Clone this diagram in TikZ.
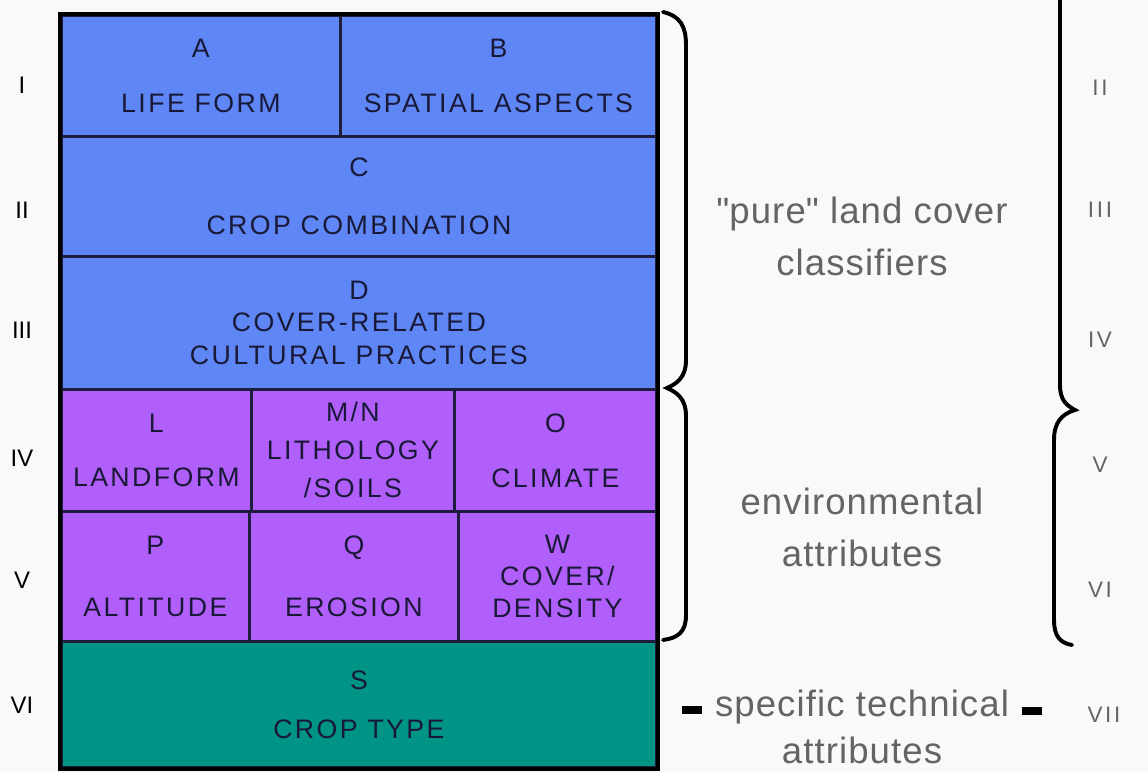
\documentclass[tikz,border=0pt]{standalone}
\usepackage{fontspec}
\setmainfont{Liberation Sans}
\newfontfamily\cellfont[LetterSpace=9]{Liberation Sans}
\newfontfamily\grpfont[LetterSpace=3]{Liberation Sans}
\newfontfamily\lvlfont[LetterSpace=12]{Liberation Sans}
\usetikzlibrary{positioning}
\definecolor{lcblue}{RGB}{94,134,245}
\definecolor{lcpurple}{RGB}{177,95,250}
\definecolor{lcteal}{RGB}{0,148,135}
\definecolor{lcline}{RGB}{30,30,60}
\definecolor{lctext}{RGB}{25,25,55}
\definecolor{lcgray}{RGB}{100,100,100}
\definecolor{lcback}{RGB}{249,249,249}
\newcommand{\px}{0.025cm}
\tikzstyle{cell} = [rectangle, anchor=north west, draw=lcline, line width=2pt, inner sep=0pt, align=center, text=lctext, font=\cellfont\fontsize{19}{23}\selectfont]
\tikzstyle{level} = [font=\fontsize{17}{20}\selectfont]
\tikzstyle{rlevel} = [font=\lvlfont\fontsize{16}{18}\selectfont, text=lcgray]
\tikzstyle{group} = [align=center, text=lcgray, font=\grpfont\fontsize{26}{37}\selectfont]
\tikzstyle{brace} = [line width=2.8pt, line cap=round]
\begin{document}
\begin{tikzpicture}[x=\px, y=-\px]
\fill[lcback] (0,0) rectangle (1148,773);
\useasboundingbox (0,0) rectangle (1148,773);

% top group: pure land cover classifiers
\node (cellA) [cell, fill=lcblue, minimum width=279*\px, minimum height=121*\px] at (60,14) {A\\[16pt]LIFE FORM};
\node (cellB) [cell, fill=lcblue, minimum width=316*\px, minimum height=121*\px] at (339,14) {B\\[16pt]SPATIAL ASPECTS};
\node (cellC) [cell, fill=lcblue, minimum width=595*\px, minimum height=120*\px] at (60,135) {C\\[18pt]CROP COMBINATION};
\node (cellD) [cell, fill=lcblue, minimum width=595*\px, minimum height=133*\px] at (60,255) {D\\COVER-RELATED\\CULTURAL PRACTICES};

% environmental attributes
\node (cellL) [cell, fill=lcpurple, minimum width=190*\px, minimum height=122*\px] at (60,388) {L\\[16pt]LANDFORM};
\node (cellMN) [cell, fill=lcpurple, minimum width=203*\px, minimum height=122*\px] at (250,388) {M/N\\[4pt]LITHOLOGY\\[4pt]/SOILS};
\node (cellO) [cell, fill=lcpurple, minimum width=202*\px, minimum height=122*\px] at (453,388) {O\\[16pt]CLIMATE};
\node (cellP) [cell, fill=lcpurple, minimum width=188*\px, minimum height=130*\px] at (60,510) {P\\[21pt]ALTITUDE};
\node (cellQ) [cell, fill=lcpurple, minimum width=209*\px, minimum height=130*\px] at (248,510) {Q\\[21pt]EROSION};
\node (cellW) [cell, fill=lcpurple, minimum width=198*\px, minimum height=130*\px] at (457,510) {W\\COVER/\\DENSITY};

% technical attributes
\node (cellS) [cell, fill=lcteal, minimum width=595*\px, minimum height=126*\px] at (60,640) {S\\[12pt]CROP TYPE};

\draw[line width=2.5pt] (cellA.north west) rectangle (cellS.south east);

% levels
\node (lI) [level] at (22,85) {I};
\node (lII) [level] at (22,210) {II};
\node (lIII) [level] at (22,330) {III};
\node (lIV) [level] at (22,458) {IV};
\node (lV) [level] at (22,580) {V};
\node (lVI) [level] at (22,705) {VI};

\node (rII) [rlevel] at (1100,88) {II};
\node (rIII) [rlevel] at (1100,210) {III};
\node (rIV) [rlevel] at (1100,340) {IV};
\node (rV) [rlevel] at (1100,465) {V};
\node (rVI) [rlevel] at (1100,590) {VI};
\node (rVII) [rlevel] at (1104,715) {VII};

\node (pure) [group] at (862,236) {\textquotedbl pure\textquotedbl\ land cover\\classifiers};
\node (envir) [group] at (862,527) {environmental\\attributes};
\node (techn) [group, font=\grpfont\fontsize{26}{34}\selectfont] at (862,727) {specific technical\\attributes};

\coordinate (dashL) at (682,710);
\coordinate (dashR) at (1022,711);
\draw[line width=5pt] (dashL) -- ++(20,0);
\draw[line width=5pt] (dashR) -- ++(20,0);

% braces
\draw[brace] (663,12) .. controls (680,16) and (686,26) .. (686,45) -- (686,360) .. controls (686,378) and (676,384) .. (667,388) .. controls (676,392) and (686,398) .. (686,416) -- (686,615) .. controls (686,632) and (678,638) .. (663,640);
\draw[brace] (1060,-5) -- (1060,385) .. controls (1060,400) and (1066,405) .. (1075,410) .. controls (1062,414) and (1054,422) .. (1054,440) -- (1054,620) .. controls (1054,636) and (1060,643) .. (1072,645);
\end{tikzpicture}
\end{document}
